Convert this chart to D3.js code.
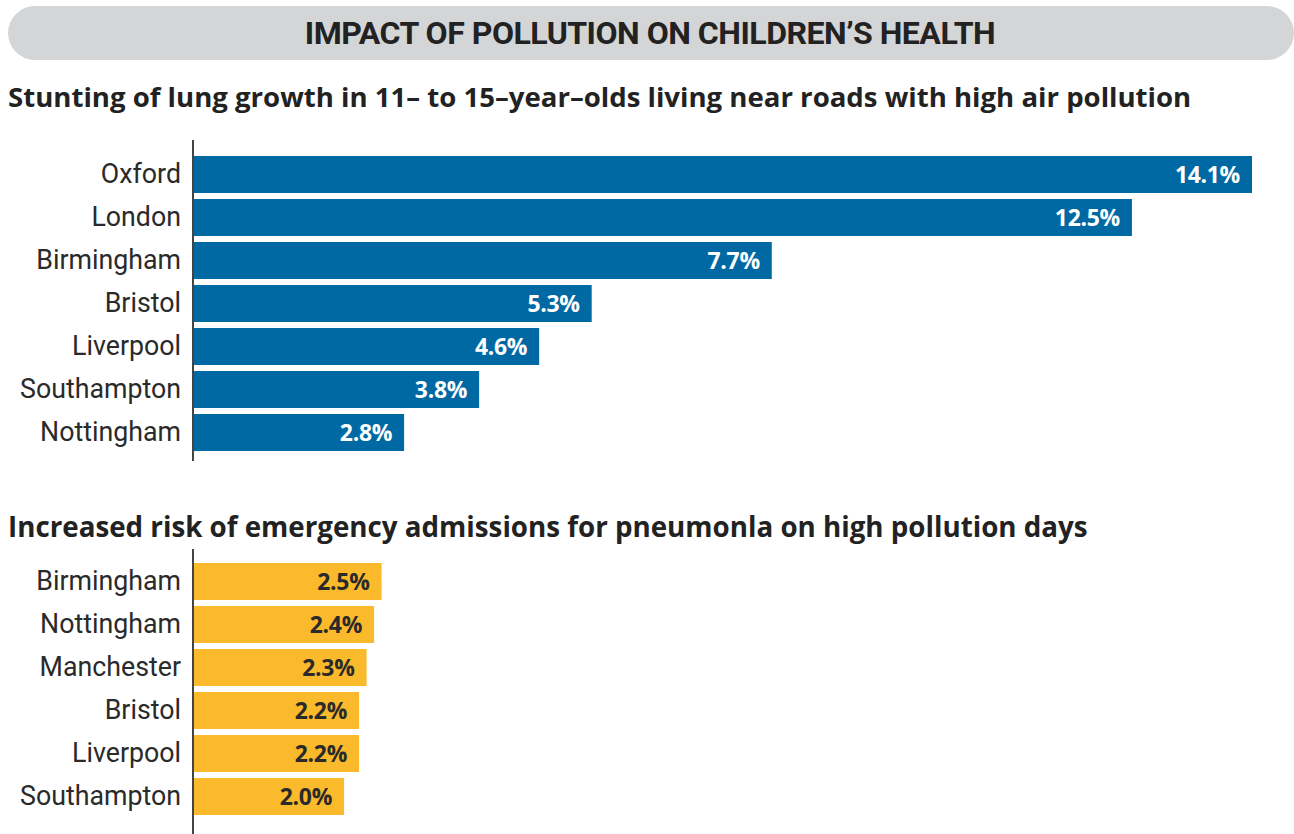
<!DOCTYPE html>
<html>
<head>
<meta charset="utf-8">
<script src="https://cdn.jsdelivr.net/npm/d3@7"></script>
<style>
  body { margin: 0; background: #fff; }
  svg { display: block; }
</style>
</head>
<body>
<div id="vis"></div>
<script>
const width = 1294, height = 834;

// data
const lungCities = ["Oxford", "London", "Birmingham", "Bristol", "Liverpool", "Southampton", "Nottingham"];
const lungValues = [14.1, 12.5, 7.7, 5.3, 4.6, 3.8, 2.8];
const pneuCities = ["Birmingham", "Nottingham", "Manchester", "Bristol", "Liverpool", "Southampton"];
const pneuValues = [2.5, 2.4, 2.3, 2.2, 2.2, 2.0];

const svg = d3.select("#vis").append("svg")
  .attr("width", width)
  .attr("height", height);

const labelFont = "Roboto, 'Liberation Sans', sans-serif";
const boldFont = "'Open Sans', 'Liberation Sans', sans-serif";

// font size that makes a text element span the target width
function fitSize(node, target) {
  const size = parseFloat(d3.select(node).style("font-size"));
  return size * target / node.getComputedTextLength();
}

// header pill
svg.append("rect")
  .attr("x", 8).attr("y", 6)
  .attr("width", 1286).attr("height", 54)
  .attr("rx", 27)
  .attr("fill", "#d4d5d7");

const title = svg.append("text")
  .attr("x", 650).attr("y", 44)
  .attr("text-anchor", "middle")
  .style("font-family", "Roboto, sans-serif")
  .style("font-weight", "bold")
  .style("font-size", "26px")
  .style("letter-spacing", "-0.5px")
  .attr("fill", "#222")
  .text("IMPACT OF POLLUTION ON CHILDREN\u2019S HEALTH");
title.style("font-size", fitSize(title.node(), 686) + "px");

const x = d3.scaleLinear().domain([0, 14.1]).range([194, 1252]);

let labelSize = null, valueSize = null;

function drawChart(opts) {
  const g = svg.append("g");

  const sub = g.append("text")
    .attr("x", 8).attr("y", opts.titleY)
    .style("font-family", boldFont)
    .style("font-weight", "bold")
    .style("font-size", "24px")
    .attr("fill", "#222")
    .text(opts.title);
  sub.style("font-size", fitSize(sub.node(), opts.titleW) + "px");

  const y = d3.scaleBand()
    .domain(opts.cities)
    .range(opts.band)
    .paddingInner(0.14)
    .paddingOuter(0.07);

  const rows = opts.cities.map((c, i) => ({ city: c, value: opts.values[i] }));

  g.selectAll(".bar")
    .data(rows)
    .join("rect")
    .attr("class", "bar")
    .attr("x", x(0))
    .attr("y", d => y(d.city))
    .attr("width", d => x(d.value) - x(0))
    .attr("height", y.bandwidth())
    .attr("fill", opts.color);

  const vals = g.selectAll(".val")
    .data(rows)
    .join("text")
    .attr("class", "val")
    .attr("x", d => x(d.value) - 12)
    .attr("y", d => y(d.city) + y.bandwidth() / 2)
    .attr("dy", "0.36em")
    .attr("text-anchor", "end")
    .style("font-family", boldFont)
    .style("font-weight", "bold")
    .style("font-size", "21px")
    .style("letter-spacing", "-0.3px")
    .attr("fill", opts.textColor)
    .text(d => d.value.toFixed(1) + "%");
  if (valueSize === null) valueSize = fitSize(vals.node(), 65);
  vals.style("font-size", valueSize + "px");

  const axis = g.append("g")
    .attr("transform", "translate(181,0)")
    .call(d3.axisLeft(y).tickSize(0).tickPadding(0));
  axis.select(".domain").remove();
  const labels = axis.selectAll("text")
    .style("font-family", labelFont)
    .style("font-size", "24px")
    .attr("fill", "#2a2a2a");
  if (labelSize === null) {
    const sn = labels.filter(d => d === "Southampton").node();
    labelSize = fitSize(sn, 161);
  }
  labels.style("font-size", labelSize + "px");

  g.append("line")
    .attr("x1", 193).attr("x2", 193)
    .attr("y1", opts.axisY[0]).attr("y2", opts.axisY[1])
    .attr("stroke", "#444")
    .attr("stroke-width", 2);
}

drawChart({
  title: "Stunting of lung growth in 11\u2013 to 15\u2013year\u2013olds living near roads with high air pollution",
  titleY: 107, titleW: 1184,
  cities: lungCities, values: lungValues,
  band: [153, 454], axisY: [140, 461],
  color: "#0069a3", textColor: "#fff"
});

drawChart({
  title: "Increased risk of emergency admissions for pneumonla on high pollution days",
  titleY: 537, titleW: 1080,
  cities: pneuCities, values: pneuValues,
  band: [560, 818], axisY: [549, 834],
  color: "#fbb92c", textColor: "#2a2a2a"
});
</script>
</body>
</html>
